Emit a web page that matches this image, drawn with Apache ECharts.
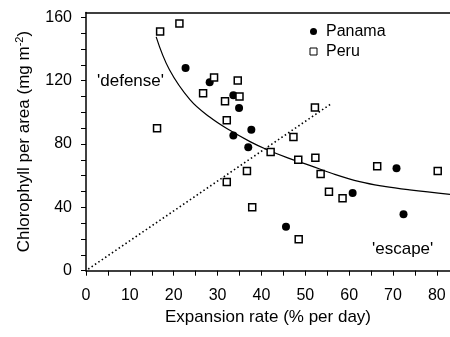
<!DOCTYPE html>
<html><head><meta charset="utf-8">
<script src="https://cdn.jsdelivr.net/npm/echarts@6/dist/echarts.min.js"></script>
<style>html,body{margin:0;padding:0;background:#fff}#c{width:450px;height:337px}</style>
</head><body><div id="c"></div>
<script>
// Panama (filled circles)
const panamaX = [22.7, 28.2, 33.6, 34.9, 37.7, 33.6, 37.0, 45.6, 60.8, 70.8, 72.4];
const panamaY = [128, 119, 110.8, 102.7, 89, 85.4, 78, 27.8, 49, 64.7, 35.6];
// Peru (open squares)
const peruX = [16.9, 21.3, 16.2, 29.2, 26.7, 34.6, 31.7, 35.0, 32.1, 32.1, 36.7, 37.9, 42.1, 52.2, 47.3, 48.4, 52.3, 53.5, 55.4, 58.5, 66.4, 80.2, 48.5];
const peruY = [151, 156, 90, 122, 112, 120, 107, 110, 95, 56, 63, 40, 75, 103, 84.4, 70, 71.3, 61, 49.8, 45.8, 66, 63, 19.8];
// fitted curve
const curveX = [16, 19, 23.7, 28.2, 32.8, 37.4, 41.2, 46, 51, 56, 62.4, 68, 73.8, 83];
const curveY = [147.6, 127, 108, 97, 88.6, 81.5, 76.5, 71.2, 66.5, 61.5, 56.2, 53.2, 51, 48.2];
// dotted line
const dotX = [0.5, 55.8];
const dotY = [1, 105.2];
// ticks
const xTickLabels = [0, 10, 20, 30, 40, 50, 60, 70, 80];
const xTicks = [0, 5, 10, 15, 20, 25, 30, 35, 40, 45, 50, 55, 60, 65, 70, 75, 80];
const yTickLabels = [0, 40, 80, 120, 160];
const yTicks = [0, 10, 20, 30, 40, 50, 60, 70, 80, 90, 100, 110, 120, 130, 140, 150, 160];

const zip = (a, b) => a.map((v, i) => [v, b[i]]);
const FONT = 'Liberation Sans, Arial, sans-serif';

const chart = echarts.init(document.getElementById('c'), null, {renderer: 'canvas'});
chart.setOption({
  animation: false,
  backgroundColor: '#fff',
  grid: {left: 86, top: 12.5, right: 0, bottom: 66.3},
  xAxis: [{
    type: 'value', min: 0, max: 83,
    axisLine: {lineStyle: {color: '#000', width: 1.5}},
    axisTick: {customValues: xTicks, length: 5, lineStyle: {color: '#000', width: 1}},
    axisLabel: {customValues: xTickLabels, color: '#000', fontSize: 16, fontFamily: FONT, margin: 17},
    splitLine: {show: false},
    name: 'Expansion rate (% per day)', nameLocation: 'middle', nameGap: 38,
    nameTextStyle: {color: '#000', fontSize: 17, fontFamily: FONT}
  }, {
    type: 'value', min: 0, max: 83, position: 'top',
    axisLine: {show: true, lineStyle: {color: '#000', width: 1.5}},
    axisTick: {show: false}, axisLabel: {show: false}, splitLine: {show: false}
  }],
  yAxis: {
    type: 'value', min: 0, max: 163,
    axisLine: {show: true, lineStyle: {color: '#000', width: 1.5}},
    axisTick: {show: true, customValues: yTicks, length: 5, lineStyle: {color: '#000', width: 1}},
    axisLabel: {customValues: yTickLabels, color: '#000', fontSize: 16, fontFamily: FONT, margin: 14},
    splitLine: {show: false},
    name: '{a|Chlorophyll per area (mg m}{s|-2}{a|)}',
    nameLocation: 'middle', nameGap: 52,
    nameTextStyle: {
      color: '#000', fontFamily: FONT,
      rich: {
        a: {fontSize: 17, fontFamily: FONT, color: '#000', lineHeight: 20},
        s: {fontSize: 11, fontFamily: FONT, color: '#000', verticalAlign: 'top', lineHeight: 20, padding: [0, 0, 8, 0]}
      }
    }
  },
  legend: {
    orient: 'vertical', left: 309.5, top: 21.5, padding: 0, itemWidth: 7, itemHeight: 7, itemGap: 0,
    textStyle: {fontSize: 16, fontFamily: FONT, color: '#000', lineHeight: 20, padding: [0, 0, 0, 4]},
    data: [
      {name: 'Panama', icon: 'circle'},
      {name: 'Peru', icon: 'rect', itemStyle: {color: '#fff', borderColor: '#000', borderWidth: 1}}
    ]
  },
  series: [
    {
      name: 'dotted', type: 'line', data: zip(dotX, dotY), symbol: 'none',
      lineStyle: {color: '#000', width: 1.6, type: [1.5, 2.6]}, z: 1
    },
    {
      name: 'curve', type: 'line', data: zip(curveX, curveY), symbol: 'none', smooth: 0.4,
      lineStyle: {color: '#000', width: 1.2}, z: 1
    },
    {
      name: 'Panama', type: 'scatter', data: zip(panamaX, panamaY), symbol: 'circle', symbolSize: 8,
      itemStyle: {color: '#000', opacity: 1}, z: 3
    },
    {
      name: 'Peru', type: 'scatter', data: zip(peruX, peruY), symbol: 'rect', symbolSize: 7,
      itemStyle: {color: '#fff', borderColor: '#000', borderWidth: 1.5, opacity: 1}, z: 3
    }
  ],
  graphic: [
    {type: 'text', left: 97, top: 73, style: {text: "'defense'", fontSize: 17, fontFamily: FONT, fill: '#000'}},
    {type: 'text', left: 372, top: 241, style: {text: "'escape'", fontSize: 17, fontFamily: FONT, fill: '#000'}}
  ]
});
</script></body></html>
